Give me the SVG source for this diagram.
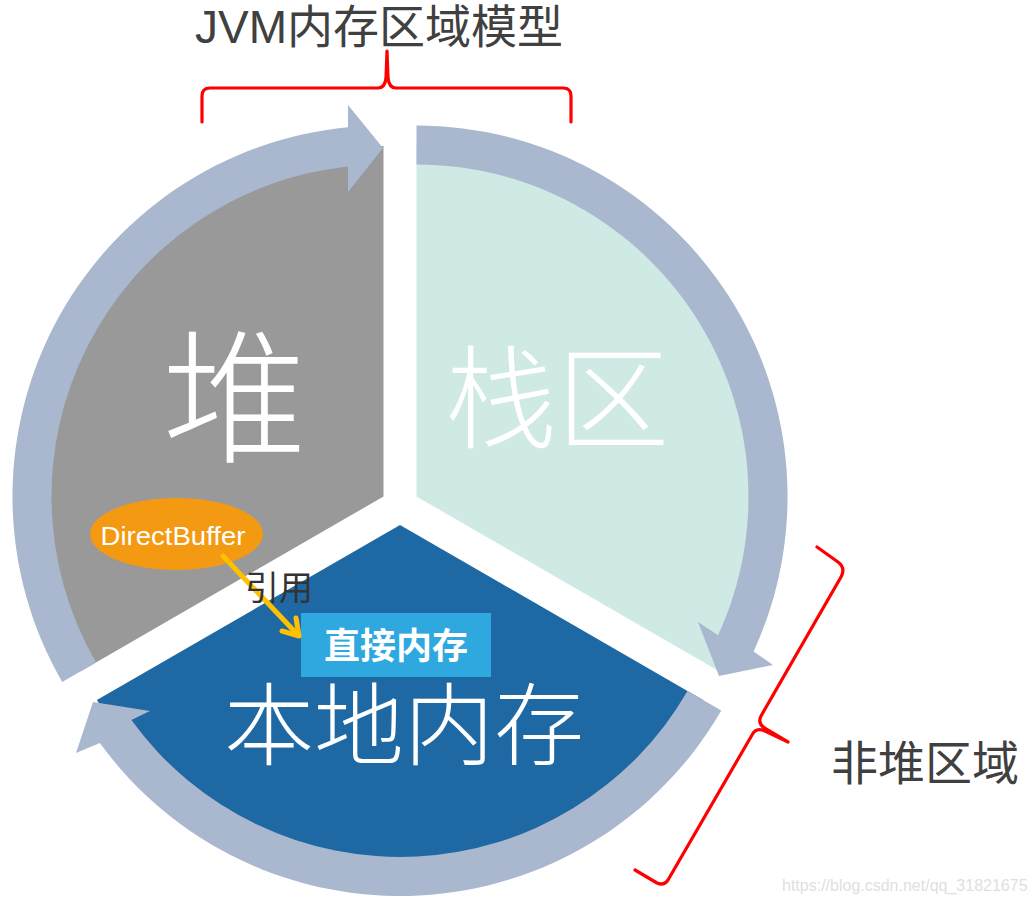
<svg xmlns="http://www.w3.org/2000/svg" width="1034" height="904" viewBox="0 0 1034 904">
<style>
.band{fill:#A9B8CF}
.brace{fill:none;stroke:#FF0000;stroke-width:3.2;stroke-linejoin:round;stroke-linecap:round}
.cjk{font-family:"Liberation Sans","Noto Sans CJK SC",sans-serif}
.big{fill:#FFFFFF;font-weight:300}
.dark{fill:#404040}
</style>
<rect x="0" y="0" width="1034" height="904" fill="#FFFFFF"/>
<g id="heap">
<path d="M383.5,496.5 L383.5,146 A350,350 0 0 0 80.4,671.5 Z" fill="#999999"/>
<path class="band" d="M62.2,682 A371,371 0 0 1 348,127.2 L348,105 L383,148 L348,192 L348,166.4 A332,332 0 0 0 96,662.5 Z"/>
<text class="cjk big" x="235" y="452" font-size="145" text-anchor="middle">堆</text>
</g>
<g id="stack">
<path d="M416.5,496.5 L416.5,146 A350,350 0 0 1 719.6,671.5 Z" fill="#CFE9E4"/>
<path class="band" d="M416.5,125.5 A371,371 0 0 1 753.6,651.5 L773,665 L719,676 L698,622 L718.1,635.2 A332,332 0 0 0 416.5,164.5 Z"/>
<text class="cjk big" x="557" y="440" font-size="112" text-anchor="middle">栈区</text>
</g>
<g id="native">
<path d="M400,525 L703.1,700 A350,350 0 0 1 96.9,700 Z" fill="#1E69A4"/>
<path class="band" d="M721.3,710.5 A371,371 0 0 1 99.9,743.1 L76,753 L93,702 L150,711 L131.4,720.1 A332,332 0 0 0 687.5,691 Z"/>
<text class="cjk big" x="404" y="758" font-size="90" text-anchor="middle">本地内存</text>
</g>
<g id="directbuffer">
<ellipse cx="176.5" cy="534" rx="86.5" ry="36" fill="#F39A12"/>
<text x="173" y="545" font-family="Liberation Sans, sans-serif" font-size="25" fill="#FFFFFF" text-anchor="middle" textLength="145" lengthAdjust="spacingAndGlyphs">DirectBuffer</text>
</g>
<g id="directmem">
<rect x="301" y="613" width="190" height="64" fill="#2FA8E0"/>
<text class="cjk" x="396" y="659" font-size="36" font-weight="bold" fill="#FFFFFF" text-anchor="middle">直接内存</text>
</g>
<g id="connectors">
<path d="M223,556 L298,635" fill="none" stroke="#FFC000" stroke-width="5" stroke-linecap="round"/>
<path d="M282,631 L299,636 L296,618" fill="none" stroke="#FFC000" stroke-width="5" stroke-linecap="round" stroke-linejoin="round"/>
<text class="cjk" x="245" y="600" font-size="34" fill="#333333">引用</text>
</g>
<g id="title">
<text class="cjk dark" x="195" y="43" font-size="46">JVM内存区域模型</text>
<path class="brace" d="M202,122 L202,96 Q202,88 210,88 L378,88 Q385,88 386,78 L387,51 L388,78 Q389,88 396,88 L563,88 Q571,88 571,96 L571,122"/>
</g>
<g id="nonheap">
<path class="brace" d="M817,547 L838,562 Q846,568 841,577 L761,716 Q757,724 766,729 L788,742 L765,731 Q756,727 752,735 L668,880 Q664,886 657,883 L635,870"/>
<text class="cjk dark" x="831" y="780" font-size="47">非堆区域</text>
</g>
<text x="782" y="891" font-family="Liberation Sans, sans-serif" font-size="16" fill="#E0E0E0">https://blog.csdn.net/qq_31821675</text>
</svg>
